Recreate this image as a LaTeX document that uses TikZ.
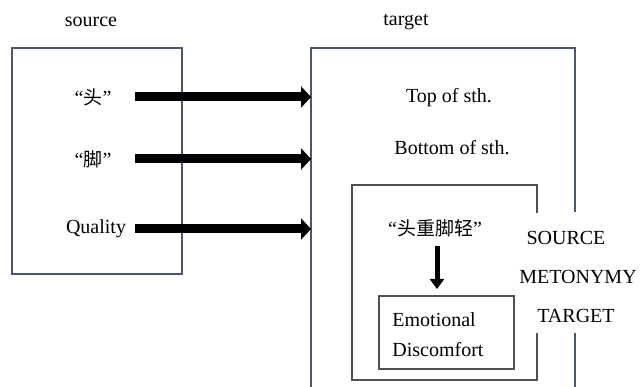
\documentclass[tikz,border=0pt]{standalone}
\usepackage{fontspec}
\setmainfont{Liberation Serif}
\newfontfamily\cjk{Noto Sans CJK SC}
\usetikzlibrary{arrows.meta}
\definecolor{boxblue}{HTML}{4A5578}
\definecolor{boxgray}{HTML}{505050}
\tikzset{
  lbl/.style={inner sep=0pt, font=\fontsize{20}{24}\selectfont},
  outerbox/.style={draw=boxblue, line width=1.4pt},
  innerbox/.style={draw=boxgray, line width=1.4pt},
  bigarrow/.style={line width=9pt, -{Triangle[length=10pt 0,width=21pt 0]}},
  downarrow/.style={line width=5pt, -{Triangle[length=10pt 0,width=14pt 0]}}
}
\begin{document}
\begin{tikzpicture}[x=1pt,y=-1pt]
\useasboundingbox (0,0) rectangle (640,387);
% source box
\draw[outerbox] (12,48) rectangle (182,274);
\node[lbl] (srclbl) at (91,22) {source};
\node[lbl] (tgtlbl) at (406,22) {target};
% target box (open at right and bottom)
\coordinate (tbl) at (311,387);
\coordinate (ttl) at (311,48);
\coordinate (ttr) at (575,48);
\coordinate (tbrk1) at (575,212);
\coordinate (tbrk2) at (575,333);
\coordinate (tbr) at (575,387);
\draw[outerbox] (tbl) -- (ttl) -- (ttr) -- (tbrk1);
\draw[outerbox] (tbrk2) -- (tbr);
% inner box (broken right side)
\coordinate (ibr1) at (537,213);
\coordinate (ibr2) at (537,333);
\draw[innerbox] (ibr1) -- (537,185) -- (352,185) -- (352,380) -- (537,380) -- (ibr2);
% emotional box
\node[innerbox, minimum width=135pt, minimum height=73pt, inner sep=0pt] (emo) at (446.5,332.5) {};
\node[lbl, align=left] (emotxt) at (438,335) {Emotional\\[6pt]Discomfort};
% source labels
\node[lbl] (tou) at (93,97) {“{\cjk\fontsize{19}{24}\selectfont 头}”};
\node[lbl] (jiao) at (93,159) {“{\cjk\fontsize{19}{24}\selectfont 脚}”};
\node[lbl] (qual) at (96,229) {Quality};
% target labels
\node[lbl] (top) at (449,98) {Top of sth.};
\node[lbl] (bot) at (452,148) {Bottom of sth.};
\node[lbl] (idiom) at (435,228) {“{\cjk\fontsize{19}{24}\selectfont 头重脚轻}”};
% side labels
\node[lbl] (srcM) at (566,238) {SOURCE};
\node[lbl] (met) at (578,277) {METONYMY};
\node[lbl] (tgtM) at (576,316) {TARGET};
% arrows
\coordinate (a1s) at (135,97);
\coordinate (a1e) at (311,97);
\coordinate (a2s) at (135,159);
\coordinate (a2e) at (311,159);
\coordinate (a3s) at (135,229);
\coordinate (a3e) at (311,229);
\draw[bigarrow] (a1s) -- (a1e);
\draw[bigarrow] (a2s) -- (a2e);
\draw[bigarrow] (a3s) -- (a3e);
\coordinate (vs) at (437,246);
\coordinate (ve) at (437,289);
\draw[downarrow] (vs) -- (ve);
\end{tikzpicture}
\end{document}
